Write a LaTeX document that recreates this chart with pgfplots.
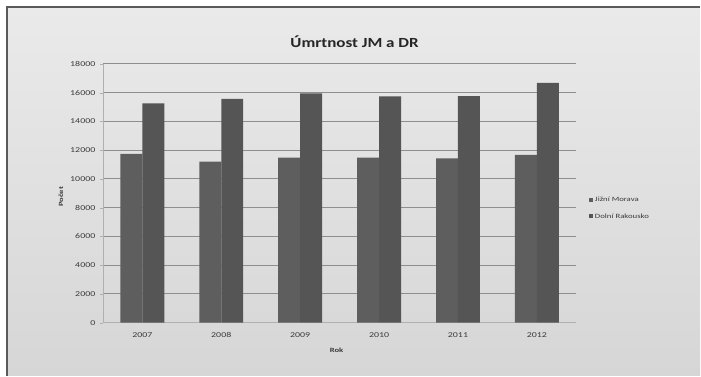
\documentclass[border=0pt]{standalone}
\usepackage{fontspec}
\setmainfont{Carlito}
\newfontfamily\widefont[FakeStretch=1.33]{Carlito}
\newfontfamily\titlefont[FakeStretch=1.22]{Carlito}
\usepackage{pgfplots}
\pgfplotsset{compat=1.18}
\definecolor{bgtop}{HTML}{EAEAEA}
\definecolor{bgbot}{HTML}{D6D6D6}
\definecolor{gridc}{HTML}{8E8E8E}
\definecolor{barjm}{HTML}{5E5E5E}
\definecolor{bardr}{HTML}{555555}
\definecolor{txt}{HTML}{3A3A3A}
\definecolor{framec}{HTML}{5A5A5A}
\begin{document}
\begin{tikzpicture}[x=1bp,y=1bp]
% page background and frame
\fill[white] (0,0) rectangle (701,376);
\shade[top color=bgtop,bottom color=bgbot] (7,0) rectangle (701,369);
\draw[framec, line width=1.6bp] (7,0) -- (7,369) -- (701,369);

\begin{axis}[
  at={(103bp,53bp)}, anchor=south west,
  scale only axis, width=474bp, height=259bp,
  xmin=-0.5, xmax=5.5, ymin=0, ymax=18000,
  ybar=0pt, bar width=22bp,
  xtick={0,...,5},
  xticklabels={2007,2008,2009,2010,2011,2012},
  ytick={0,2000,...,18000},
  scaled y ticks=false,
  /pgf/number format/1000 sep={},
  /pgf/number format/assume math mode=true,
  ymajorgrids,
  grid style={gridc, line width=0.9bp},
  axis x line*=bottom, axis y line*=left,
  axis line style={gridc!70, line width=0.6bp},
  x tick style={draw=none},
  y tick style={gridc!70},
  major tick length=3bp, tick align=outside,
  tick label style={font=\widefont\fontsize{7.5}{8}\selectfont, text=txt},
  yticklabel style={xshift=-1bp},
  xticklabel style={yshift=-3bp, anchor=north, text height=5.5bp, text depth=0bp},
  legend style={draw=none, fill=none, at={(1.02,0.50)}, anchor=north west,
    font=\widefont\fontsize{6.6}{8}\selectfont, text=txt, row sep=6bp,
    legend cell align=left},
]
\addplot[fill=barjm, draw=none,
  legend image code/.code={\fill[barjm] (0bp,-2bp) rectangle (4bp,2bp);}]
  coordinates
  {(0,11740) (1,11200) (2,11480) (3,11480) (4,11430) (5,11670)};
\addplot[fill=bardr, draw=none,
  legend image code/.code={\fill[bardr] (0bp,-2bp) rectangle (4bp,2bp);}]
  coordinates
  {(0,15260) (1,15560) (2,15950) (3,15740) (4,15760) (5,16690)};
\legend{Jižní Morava, Dolní Rakousko}
\end{axis}

% titles
\node[font=\titlefont\fontsize{14}{16}\selectfont\bfseries, text=black!85] at (355,334) {Úmrtnost JM a DR};
\node[font=\widefont\fontsize{6.5}{7}\selectfont\bfseries, text=txt, rotate=90] at (61,179) {Počet};
\node[font=\widefont\fontsize{6.5}{7}\selectfont\bfseries, text=txt] at (337,25) {Rok};
\end{tikzpicture}
\end{document}
